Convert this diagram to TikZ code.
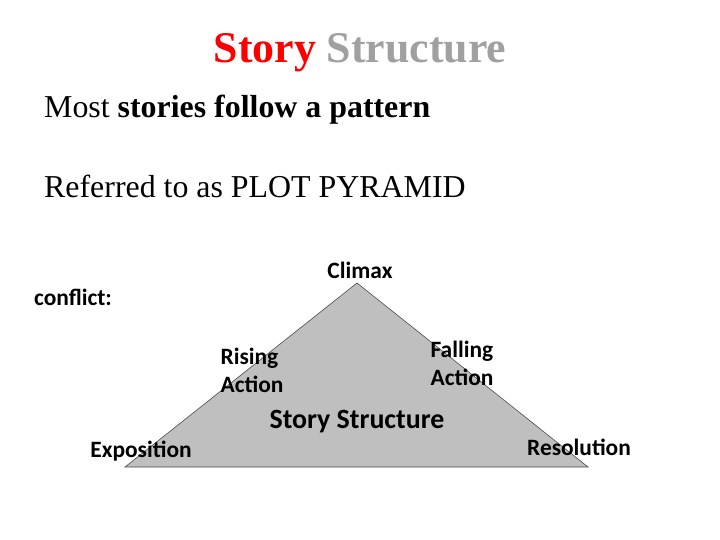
\documentclass[tikz,border=0pt]{standalone}
\usepackage{fontspec}
\setmainfont{Liberation Serif}
\newfontfamily\calfont{Carlito}
\definecolor{tri}{RGB}{191,191,191}
\definecolor{tgray}{RGB}{160,160,160}
\begin{document}
\begin{tikzpicture}[x=1bp,y=-1bp,
  lab/.style={font=\calfont\bfseries\fontsize{23.5}{28}\selectfont,align=left,inner sep=0pt},
  body/.style={font=\fontsize{32}{36}\selectfont,anchor=west,inner sep=0pt}]
\useasboundingbox[fill=white] (0,0) rectangle (720,540);
\node (title) at (360,53) {\fontsize{44}{50}\selectfont\bfseries\textcolor{red}{Story} \textcolor{tgray}{Structure}};
\node[body] (l1) at (44,110) {Most \textbf{stories follow a pattern}};
\node[body] (l2) at (44,186) {Referred to as PLOT PYRAMID};
\coordinate (apex) at (357,283);
\coordinate (bl) at (125,467);
\coordinate (br) at (588,467);
\draw[fill=tri,draw=black!70,line width=0.6pt] (apex) -- (bl) -- (br) -- cycle;
\node[lab] (climax) at (360,270) {Climax};
\node[lab] (conflict) at (73,297) {conflict:};
\node[lab] (rising) at (252,370) {Rising\\Action};
\node[lab] (falling) at (462,363) {Falling\\Action};
\node[lab,font=\calfont\bfseries\fontsize{28}{32}\selectfont] (ss) at (357,422) {Story Structure};
\node[lab] (expo) at (141,451) {Exposition};
\node[lab] (reso) at (579,447) {Resolution};
\end{tikzpicture}
\end{document}
